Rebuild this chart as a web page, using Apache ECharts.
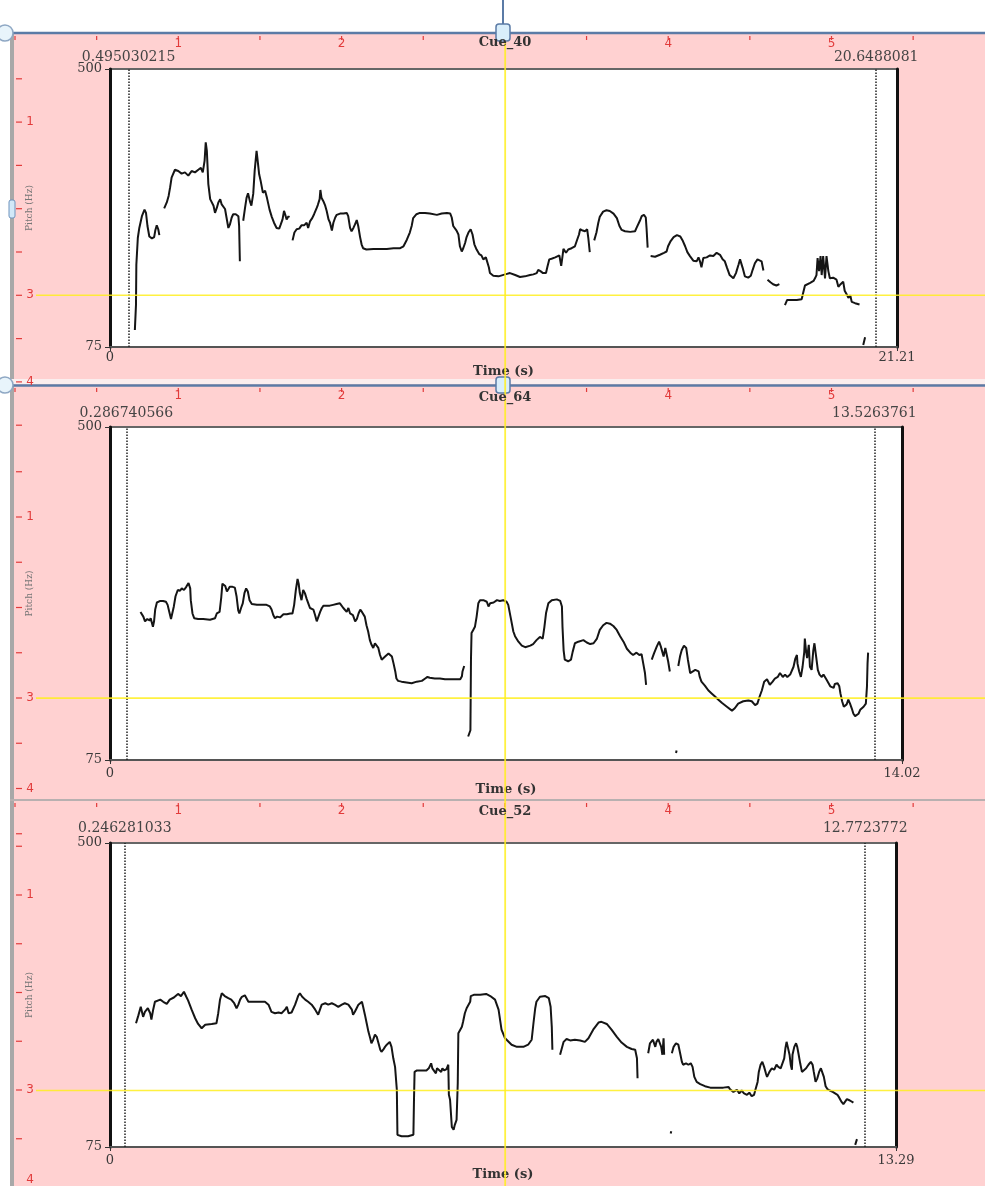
<!DOCTYPE html>
<html><head><meta charset="utf-8">
<script src="https://cdn.jsdelivr.net/npm/echarts@6/dist/echarts.min.js"></script>
<style>html,body{margin:0;padding:0;background:#fff}#c{width:985px;height:1186px}</style>
</head><body><div id="c"></div>
<script>
// ---------------- data ----------------
const cueNames = ['Cue_40', 'Cue_64', 'Cue_52'];
const durations = [21.21, 14.02, 13.29];
const boundaryStart = ['0.495030215', '0.286740566', '0.246281033'];
const boundaryEnd = ['20.6488081', '13.5263761', '12.7723772'];
const pitchMin = 75, pitchMax = 500;
const cursorHz = 154;      // horizontal yellow cursor
const cursorTime = 10.65;  // vertical yellow cursor (time in first window)

// Pitch contour of Cue_40, voiced stretches (time s, F0 Hz)
const cue40Pitch = [
 [[0.67,101],[0.70,139],[0.71,201],[0.75,242],[0.79,257],[0.86,275],[0.93,285],[0.97,280],[1.01,260],[1.06,244],[1.13,241],[1.19,243],[1.22,253],[1.26,261],[1.30,255],[1.33,246]],
 [[1.46,287],[1.53,296],[1.58,306],[1.62,319],[1.66,334],[1.75,346],[1.84,344],[1.93,340],[2.02,342],[2.11,337],[2.20,344],[2.29,342],[2.38,346],[2.45,349],[2.50,342],[2.55,360],[2.58,388],[2.61,375],[2.63,350],[2.65,324],[2.70,301],[2.74,298],[2.79,291],[2.83,280],[2.88,288],[2.92,296],[2.97,301],[3.01,293],[3.06,296],[3.10,286],[3.14,273],[3.19,257],[3.23,262],[3.28,273],[3.32,278],[3.39,278],[3.46,275],[3.48,260],[3.50,206]],
 [[3.59,268],[3.64,288],[3.68,303],[3.72,310],[3.77,298],[3.81,291],[3.86,309],[3.90,345],[3.95,375],[3.97,365],[4.02,339],[4.06,329],[4.12,311],[4.18,314],[4.23,303],[4.30,285],[4.36,274],[4.42,265],[4.49,257],[4.56,256],[4.60,262],[4.65,270],[4.69,283],[4.72,278],[4.76,270],[4.81,275],[4.83,273]],
 [[4.92,238],[4.97,250],[5.03,255],[5.10,256],[5.16,261],[5.23,261],[5.30,265],[5.34,257],[5.39,267],[5.45,272],[5.50,278],[5.56,286],[5.60,292],[5.65,301],[5.67,315],[5.70,303],[5.75,298],[5.80,291],[5.84,283],[5.89,270],[5.93,265],[5.98,253],[6.02,265],[6.07,273],[6.11,277],[6.20,279],[6.29,279],[6.38,280],[6.42,275],[6.47,257],[6.51,252],[6.56,257],[6.60,262],[6.65,269],[6.69,260],[6.74,243],[6.78,232],[6.82,226],[6.91,224],[7.10,225],[7.28,225],[7.46,225],[7.64,226],[7.82,226],[7.91,229],[8.00,239],[8.08,250],[8.13,260],[8.17,272],[8.26,278],[8.35,280],[8.49,280],[8.62,279],[8.81,277],[8.94,279],[9.08,280],[9.17,279],[9.21,273],[9.25,260],[9.34,253],[9.39,247],[9.43,229],[9.48,221],[9.52,226],[9.57,234],[9.61,243],[9.66,250],[9.72,255],[9.77,247],[9.82,232],[9.88,224],[9.95,217],[10.01,215],[10.06,209],[10.13,212],[10.17,209],[10.21,197],[10.24,188],[10.33,184],[10.47,183],[10.65,186],[10.78,188],[10.92,185],[11.05,182],[11.18,183],[11.32,185],[11.41,186],[11.50,188],[11.54,193],[11.60,191],[11.67,188],[11.75,188],[11.79,198],[11.84,209],[11.90,210],[12.00,212],[12.04,210],[12.11,215],[12.16,199],[12.20,216],[12.22,225],[12.29,219],[12.35,224],[12.44,226],[12.53,229],[12.59,239],[12.64,247],[12.67,255],[12.74,253],[12.80,252],[12.86,255],[12.89,242],[12.93,220]],
 [[13.05,238],[13.11,250],[13.16,265],[13.20,274],[13.29,282],[13.38,284],[13.47,283],[13.57,279],[13.66,272],[13.73,260],[13.79,254],[13.88,252],[14.02,251],[14.15,252],[14.19,257],[14.28,268],[14.33,275],[14.39,277],[14.44,273],[14.46,257],[14.49,227]],
 [[14.57,214],[14.69,213],[14.82,216],[14.93,219],[15.00,221],[15.04,229],[15.11,237],[15.19,243],[15.28,246],[15.37,244],[15.44,237],[15.50,229],[15.56,220],[15.63,214],[15.72,207],[15.81,206],[15.86,212],[15.90,206],[15.94,197],[15.99,211],[16.08,212],[16.17,215],[16.26,214],[16.35,219],[16.44,216],[16.51,209],[16.57,206],[16.63,196],[16.70,185],[16.80,180],[16.87,188],[16.94,201],[16.98,209],[17.05,196],[17.11,183],[17.20,181],[17.27,184],[17.32,193],[17.38,203],[17.45,209],[17.50,212],[17.56,206],[17.61,192]],
 [[17.72,178],[17.80,174],[17.87,171],[17.96,169],[18.04,171]],
 [[18.19,139],[18.25,147],[18.37,147],[18.51,147],[18.64,148],[18.69,160],[18.73,169],[18.78,170],[18.87,173],[18.96,176],[19.00,180],[19.04,185],[19.07,211],[19.11,191],[19.15,214],[19.18,185],[19.22,214],[19.27,180],[19.31,214],[19.36,191],[19.40,180],[19.49,181],[19.58,178],[19.63,167],[19.69,171],[19.76,175],[19.80,161],[19.86,155],[19.90,150],[19.95,154],[19.99,144],[20.04,147],[20.08,142],[20.13,139],[20.20,140]],
 [[20.30,78],[20.35,90]]
];

// Pitch contour of Cue_64
const cue64Pitch = [
 [[0.54,264],[0.59,258],[0.62,252],[0.66,255],[0.70,253],[0.72,256],[0.76,245],[0.78,252],[0.80,267],[0.83,276],[0.89,278],[0.94,278],[0.99,277],[1.02,273],[1.05,264],[1.08,255],[1.11,257],[1.13,271],[1.16,284],[1.20,292],[1.24,291],[1.27,294],[1.31,292],[1.35,296],[1.39,301],[1.42,294],[1.43,279],[1.46,262],[1.49,256],[1.56,255],[1.65,255],[1.77,254],[1.86,256],[1.89,262],[1.94,264],[1.97,283],[1.99,300],[2.04,297],[2.07,290],[2.09,288],[2.12,296],[2.17,296],[2.21,295],[2.24,284],[2.27,266],[2.29,262],[2.32,269],[2.35,275],[2.38,288],[2.41,294],[2.44,290],[2.47,279],[2.51,274],[2.60,273],[2.68,273],[2.77,273],[2.83,271],[2.86,267],[2.89,260],[2.92,256],[2.96,258],[3.01,257],[3.07,261],[3.13,261],[3.19,262],[3.23,262],[3.26,273],[3.29,292],[3.32,306],[3.34,300],[3.36,288],[3.39,279],[3.42,292],[3.45,288],[3.48,281],[3.51,275],[3.54,269],[3.57,271],[3.60,267],[3.63,260],[3.66,252],[3.69,258],[3.72,264],[3.75,269],[3.78,272],[3.84,272],[3.89,272],[3.95,273],[4.01,274],[4.07,275],[4.10,273],[4.13,269],[4.16,267],[4.19,264],[4.22,269],[4.25,262],[4.30,260],[4.34,252],[4.37,255],[4.40,262],[4.43,267],[4.46,264],[4.48,262],[4.51,258],[4.54,247],[4.57,239],[4.60,228],[4.63,222],[4.66,218],[4.69,224],[4.72,222],[4.75,218],[4.78,209],[4.81,203],[4.84,201],[4.87,207],[4.90,209],[4.93,211],[4.96,211],[4.99,207],[5.02,198],[5.05,188],[5.07,179],[5.10,176],[5.16,175],[5.25,174],[5.34,173],[5.43,175],[5.52,176],[5.58,179],[5.62,181],[5.66,180],[5.75,179],[5.84,179],[5.93,178],[6.02,178],[6.11,178],[6.20,178],[6.23,182],[6.24,188],[6.27,195]],
 [[6.34,105],[6.38,113],[6.39,203],[6.40,237],[6.43,241],[6.46,245],[6.49,258],[6.52,275],[6.55,279],[6.61,279],[6.67,277],[6.70,271],[6.73,275],[6.79,276],[6.85,279],[6.90,278],[6.96,279],[7.02,277],[7.05,273],[7.09,258],[7.14,239],[7.17,233],[7.23,226],[7.29,221],[7.35,219],[7.44,221],[7.49,223],[7.55,228],[7.61,232],[7.66,230],[7.69,245],[7.72,263],[7.76,275],[7.82,279],[7.91,280],[7.97,278],[8.00,271],[8.01,245],[8.03,215],[8.05,203],[8.11,201],[8.16,203],[8.19,213],[8.23,224],[8.29,226],[8.38,228],[8.44,225],[8.50,223],[8.56,224],[8.62,230],[8.67,241],[8.73,247],[8.79,250],[8.85,249],[8.91,246],[8.97,241],[9.03,233],[9.09,226],[9.15,217],[9.21,212],[9.26,209],[9.32,212],[9.37,209],[9.41,210],[9.44,198],[9.47,186],[9.49,171]],
 [[9.59,203],[9.63,211],[9.68,220],[9.72,226],[9.75,220],[9.80,207],[9.83,218],[9.85,219],[9.88,201],[9.91,188]],
 [[10.02,84],[10.03,87]],
 [[10.06,195],[10.09,207],[10.12,215],[10.16,221],[10.20,218],[10.23,203],[10.27,186],[10.30,184],[10.36,190],[10.39,191],[10.42,188],[10.44,181],[10.47,175],[10.53,170],[10.59,164],[10.65,160],[10.71,156],[10.77,152],[10.83,148],[10.92,143],[11.01,138],[11.06,141],[11.12,147],[11.21,150],[11.30,151],[11.36,150],[11.42,145],[11.46,147],[11.50,156],[11.54,164],[11.58,175],[11.63,178],[11.68,171],[11.73,175],[11.77,179],[11.82,181],[11.86,186],[11.91,181],[11.95,184],[11.99,181],[12.04,184],[12.07,186],[12.10,194],[12.13,204],[12.16,209],[12.17,198],[12.20,188],[12.23,181],[12.26,194],[12.29,213],[12.30,230],[12.32,215],[12.34,205],[12.37,222],[12.39,194],[12.42,190],[12.45,215],[12.47,224],[12.50,207],[12.53,190],[12.56,184],[12.60,181],[12.63,184],[12.68,178],[12.72,173],[12.75,169],[12.78,171],[12.81,167],[12.83,172],[12.88,173],[12.91,169],[12.93,160],[12.96,150],[12.99,143],[13.04,146],[13.07,152],[13.10,147],[13.13,141],[13.16,134],[13.19,131],[13.25,134],[13.28,139],[13.34,143],[13.38,147],[13.40,169],[13.41,198],[13.42,212]]
];

// Pitch contour of Cue_52
const cue52Pitch = [
 [[0.44,248],[0.48,259],[0.52,271],[0.56,257],[0.59,264],[0.64,269],[0.68,262],[0.70,253],[0.73,267],[0.76,278],[0.85,281],[0.90,278],[0.96,275],[1.01,281],[1.08,284],[1.15,289],[1.20,286],[1.25,292],[1.29,285],[1.32,280],[1.38,267],[1.44,255],[1.49,247],[1.55,241],[1.61,246],[1.72,247],[1.80,248],[1.83,262],[1.86,281],[1.89,290],[1.94,286],[2.00,283],[2.05,281],[2.10,276],[2.14,269],[2.17,274],[2.20,281],[2.23,285],[2.28,287],[2.34,278],[2.48,278],[2.62,278],[2.68,274],[2.73,264],[2.79,262],[2.85,263],[2.90,262],[2.96,267],[2.99,271],[3.02,262],[3.07,263],[3.13,274],[3.16,281],[3.18,286],[3.21,290],[3.25,285],[3.30,281],[3.35,278],[3.41,274],[3.47,267],[3.52,260],[3.55,267],[3.58,274],[3.64,276],[3.69,274],[3.75,276],[3.80,274],[3.86,271],[3.92,274],[3.97,276],[4.00,278],[4.03,274],[4.09,267],[4.11,260],[4.14,264],[4.17,269],[4.20,274],[4.23,276],[4.26,278],[4.28,271],[4.31,260],[4.34,248],[4.37,236],[4.40,227],[4.42,220],[4.45,225],[4.48,232],[4.51,229],[4.54,220],[4.57,211],[4.59,208],[4.62,211],[4.65,215],[4.68,218],[4.71,220],[4.73,222],[4.76,215],[4.79,199],[4.82,187],[4.85,155],[4.86,92],[4.93,90],[5.04,90],[5.13,92],[5.14,141],[5.15,180],[5.19,182],[5.27,182],[5.35,182],[5.39,185],[5.43,192],[5.45,185],[5.48,183],[5.51,178],[5.53,185],[5.56,183],[5.60,180],[5.62,185],[5.65,182],[5.69,184],[5.72,190],[5.73,148],[5.75,141],[5.78,103],[5.81,99],[5.83,106],[5.86,113],[5.88,164],[5.89,234],[5.92,236],[5.95,243],[5.97,250],[6.00,262],[6.03,269],[6.09,278],[6.10,286],[6.16,288],[6.26,288],[6.36,289],[6.43,286],[6.51,281],[6.57,267],[6.62,239],[6.68,227],[6.71,225],[6.79,218],[6.88,215],[6.99,215],[7.07,218],[7.13,225],[7.16,248],[7.19,269],[7.21,278],[7.27,285],[7.36,286],[7.42,283],[7.44,281],[7.45,271],[7.47,243],[7.48,211]],
 [[7.61,204],[7.64,206],[7.67,222],[7.72,226],[7.78,224],[7.86,225],[7.95,224],[8.03,222],[8.09,227],[8.17,239],[8.26,249],[8.31,250],[8.40,247],[8.48,239],[8.57,229],[8.65,221],[8.74,215],[8.82,212],[8.88,211],[8.91,199],[8.92,171]],
 [[9.10,206],[9.13,220],[9.18,225],[9.22,215],[9.24,222],[9.27,226],[9.30,227],[9.32,215],[9.34,204],[9.36,227],[9.37,204]],
 [[9.48,94],[9.49,97]],
 [[9.50,206],[9.53,215],[9.57,220],[9.61,218],[9.64,206],[9.67,194],[9.69,190],[9.74,192],[9.78,190],[9.82,192],[9.85,187],[9.88,173],[9.92,166],[9.98,163],[10.06,160],[10.15,158],[10.26,158],[10.37,158],[10.46,159],[10.48,156],[10.51,158],[10.54,152],[10.60,155],[10.64,150],[10.68,154],[10.72,150],[10.77,148],[10.81,151],[10.85,146],[10.89,148],[10.92,157],[10.95,166],[10.97,180],[11.00,190],[11.03,194],[11.06,187],[11.09,178],[11.11,173],[11.15,180],[11.19,185],[11.23,183],[11.27,190],[11.30,187],[11.34,185],[11.37,187],[11.40,199],[11.42,213],[11.44,222],[11.46,215],[11.49,204],[11.51,190],[11.53,183],[11.54,204],[11.57,215],[11.60,220],[11.62,215],[11.64,206],[11.67,192],[11.70,180],[11.72,178],[11.77,185],[11.81,190],[11.85,194],[11.88,190],[11.90,180],[11.93,166],[11.96,171],[11.99,180],[12.02,185],[12.04,183],[12.07,173],[12.10,160],[12.13,156],[12.17,154],[12.22,152],[12.26,150],[12.30,148],[12.33,144],[12.37,138],[12.40,135],[12.43,136],[12.46,142],[12.48,142],[12.51,140],[12.54,141],[12.57,137]],
 [[12.60,78],[12.63,86]]
];

// ruler labels of the editor frame
const topRulerLabels = ['1', '2', '4', '5'];
const topRulerUnits = [1, 2, 4, 5];
const leftRulerLabels = ['1', '3', '4'];
const leftRulerUnits = [1, 3, 4];

// ---------------- layout / style ----------------
const PINK = '#ffd1d1';
const BLUE = '#5b7ba6';
const RED = '#e23b3b';
const YELLOW = 'rgba(255,238,30,0.85)';
const SERIF = 'DejaVu Serif';
const pitchSets = [cue40Pitch, cue64Pitch, cue52Pitch];
const gridBoxes = [
  {left: 110, top: 69, width: 787, height: 278},
  {left: 110, top: 427, width: 792, height: 333},
  {left: 110, top: 843, width: 786, height: 304}
];
const timeNameGap = [16, 23, 21];
const xLabelMargin = [4, 7, 7];
const boundaryLabelDist = [5, 7, 8];
const bandTops = [34, 386, 801];
const leftRuler = [{y0: 35.5, unit: 86.6}, {y0: 426.5, unit: 90.5}, {y0: 797.5, unit: 97.5}];

function joinSegments(segs) {
  const out = [];
  segs.forEach((s, i) => { if (i) out.push(['-', '-']); s.forEach(p => out.push(p)); });
  return out;
}

const chart = echarts.init(document.getElementById('c'), null, {renderer: 'canvas'});

const xAxes = durations.map((d, i) => ({
  gridIndex: i, type: 'value', min: 0, max: d, interval: d,
  name: 'Time (s)', nameLocation: 'middle', nameGap: timeNameGap[i],
  nameTextStyle: {fontFamily: SERIF, fontWeight: 'bold', fontSize: 13, color: '#333'},
  axisLine: {show: true, onZero: false, lineStyle: {color: '#555', width: 2}},
  axisTick: {show: true, length: 4, lineStyle: {color: '#333'}},
  axisLabel: {margin: xLabelMargin[i], fontFamily: SERIF, fontSize: 13, color: '#3a3a3a',
    formatter: v => (v === 0 ? '0' : String(d))},
  splitLine: {show: false}
}));
const yLeft = durations.map((d, i) => ({
  gridIndex: i, type: 'value', min: pitchMin, max: pitchMax, interval: pitchMax - pitchMin,
  name: 'Pitch (Hz)', nameLocation: 'middle', nameRotate: 90, nameGap: 76,
  nameTextStyle: {fontFamily: SERIF, fontSize: 9, color: '#777'},
  axisLine: {show: true, onZero: false, lineStyle: {color: '#111', width: 3}},
  axisTick: {show: true, length: 5, lineStyle: {color: '#333'}},
  axisLabel: {margin: 8, fontFamily: SERIF, fontSize: 13, color: '#3a3a3a'},
  splitLine: {show: false}
}));
const yRight = durations.map((d, i) => ({
  gridIndex: i, type: 'value', position: 'right', min: pitchMin, max: pitchMax,
  axisLine: {show: true, onZero: false, lineStyle: {color: '#111', width: 3}},
  axisTick: {show: false}, axisLabel: {show: false}, splitLine: {show: false}
}));

const series = pitchSets.map((segs, i) => ({
  type: 'line', xAxisIndex: i, yAxisIndex: i, data: joinSegments(segs),
  showSymbol: false, symbol: 'none', connectNulls: false, silent: true,
  lineStyle: {color: '#151515', width: 2},
  markLine: {
    symbol: 'none', silent: true, animation: false,
    lineStyle: {type: 'dotted', color: '#222', width: 1.5},
    label: {show: true, position: 'end', distance: boundaryLabelDist[i],
      fontFamily: SERIF, fontSize: 14, color: '#444',
      formatter: p => (p.dataIndex === 0 ? boundaryStart[i] : boundaryEnd[i])},
    data: [{xAxis: parseFloat(boundaryStart[i])}, {xAxis: parseFloat(boundaryEnd[i])}]
  }
}));

chart.setOption({
  backgroundColor: PINK,
  animation: false,
  textStyle: {fontFamily: SERIF},
  grid: gridBoxes.map(b => Object.assign({show: true, backgroundColor: '#fff', borderColor: '#666', borderWidth: 2}, b)),
  xAxis: xAxes,
  yAxis: yLeft.concat(yRight),
  series: series
});

// ---------------- frame decorations ----------------
const g = [];
g.push({type: 'rect', shape: {x: 0, y: 0, width: 985, height: 32}, style: {fill: '#fff'}, z: 1});
g.push({type: 'rect', shape: {x: 0, y: 0, width: 10, height: 1186}, style: {fill: '#fff'}, z: 1});
g.push({type: 'rect', shape: {x: 10, y: 33, width: 4, height: 1153}, style: {fill: '#a8a8a8'}, z: 2});
g.push({type: 'rect', shape: {x: 10, y: 379, width: 975, height: 5}, style: {fill: '#fbeeee'}, z: 2});
g.push({type: 'line', shape: {x1: 10, y1: 33, x2: 985, y2: 33}, style: {stroke: BLUE, lineWidth: 2.5}, z: 3});
g.push({type: 'line', shape: {x1: 10, y1: 385.5, x2: 985, y2: 385.5}, style: {stroke: BLUE, lineWidth: 2.5}, z: 3});
g.push({type: 'line', shape: {x1: 10, y1: 800, x2: 985, y2: 800}, style: {stroke: '#b8b0b0', lineWidth: 2}, z: 3});
bandTops.forEach((by, b) => {
  for (let k = 0; k <= 11; k++) {
    const x = 15 + 81.65 * k;
    if (x > 985) break;
    g.push({type: 'line', shape: {x1: x, y1: by + 2, x2: x, y2: by + 6}, style: {stroke: RED, lineWidth: 1.2}, z: 4});
  }
  topRulerUnits.forEach((u, j) => {
    g.push({type: 'text', x: 15 + 163.3 * u, y: by + 10, z: 4,
      style: {text: topRulerLabels[j], fill: RED, font: '12px "DejaVu Sans"', align: 'center', verticalAlign: 'middle'}});
  });
});
leftRuler.forEach((r, b) => {
  for (let k = 1; k <= 9; k++) {
    const y = r.y0 + r.unit * k / 2;
    if (y > 1186) break;
    g.push({type: 'line', shape: {x1: 16, y1: y, x2: 22, y2: y}, style: {stroke: RED, lineWidth: 1.2}, z: 4});
  }
  leftRulerUnits.forEach((u, j) => {
    g.push({type: 'text', x: 30, y: Math.min(r.y0 + r.unit * u, 1180), z: 4,
      style: {text: leftRulerLabels[j], fill: RED, font: '12px "DejaVu Sans"', align: 'center', verticalAlign: 'middle'}});
  });
});
g.push({type: 'line', shape: {x1: 503, y1: 0, x2: 503, y2: 24}, style: {stroke: BLUE, lineWidth: 2}, z: 5});
g.push({type: 'rect', shape: {x: 496, y: 24, width: 14, height: 17, r: 3}, style: {fill: '#d9eefb', stroke: BLUE, lineWidth: 1.5}, z: 6});
g.push({type: 'rect', shape: {x: 496, y: 377, width: 14, height: 16, r: 3}, style: {fill: '#d9eefb', stroke: BLUE, lineWidth: 1.5}, z: 6});
g.push({type: 'circle', shape: {cx: 5, cy: 33, r: 8}, style: {fill: '#e8f4fb', stroke: '#8fa8c4', lineWidth: 1.5}, z: 6});
g.push({type: 'circle', shape: {cx: 5, cy: 385, r: 8}, style: {fill: '#e8f4fb', stroke: '#8fa8c4', lineWidth: 1.5}, z: 6});
g.push({type: 'rect', shape: {x: 9, y: 200, width: 6, height: 18, r: 2}, style: {fill: '#d2e8f8', stroke: '#6f93bd', lineWidth: 1}, z: 6});
const cx = chart.convertToPixel({xAxisIndex: 0, yAxisIndex: 0}, [cursorTime, cursorHz])[0];
[0, 1, 2].forEach(i => {
  const yy = chart.convertToPixel({xAxisIndex: i, yAxisIndex: i}, [0, cursorHz])[1];
  g.push({type: 'line', shape: {x1: 36, y1: yy, x2: 985, y2: yy}, style: {stroke: YELLOW, lineWidth: 1.6}, z: 7});
});
g.push({type: 'line', shape: {x1: cx, y1: 41, x2: cx, y2: 1186}, style: {stroke: YELLOW, lineWidth: 1.8}, z: 7});
const cueY = [43, 398, 812];
cueNames.forEach((n, i) => {
  g.push({type: 'text', x: 505, y: cueY[i], z: 8,
    style: {text: n, fill: '#333', font: 'bold 13px "DejaVu Serif"', align: 'center', verticalAlign: 'middle'}});
});
chart.setOption({graphic: {elements: g}});
</script>
</body></html>
